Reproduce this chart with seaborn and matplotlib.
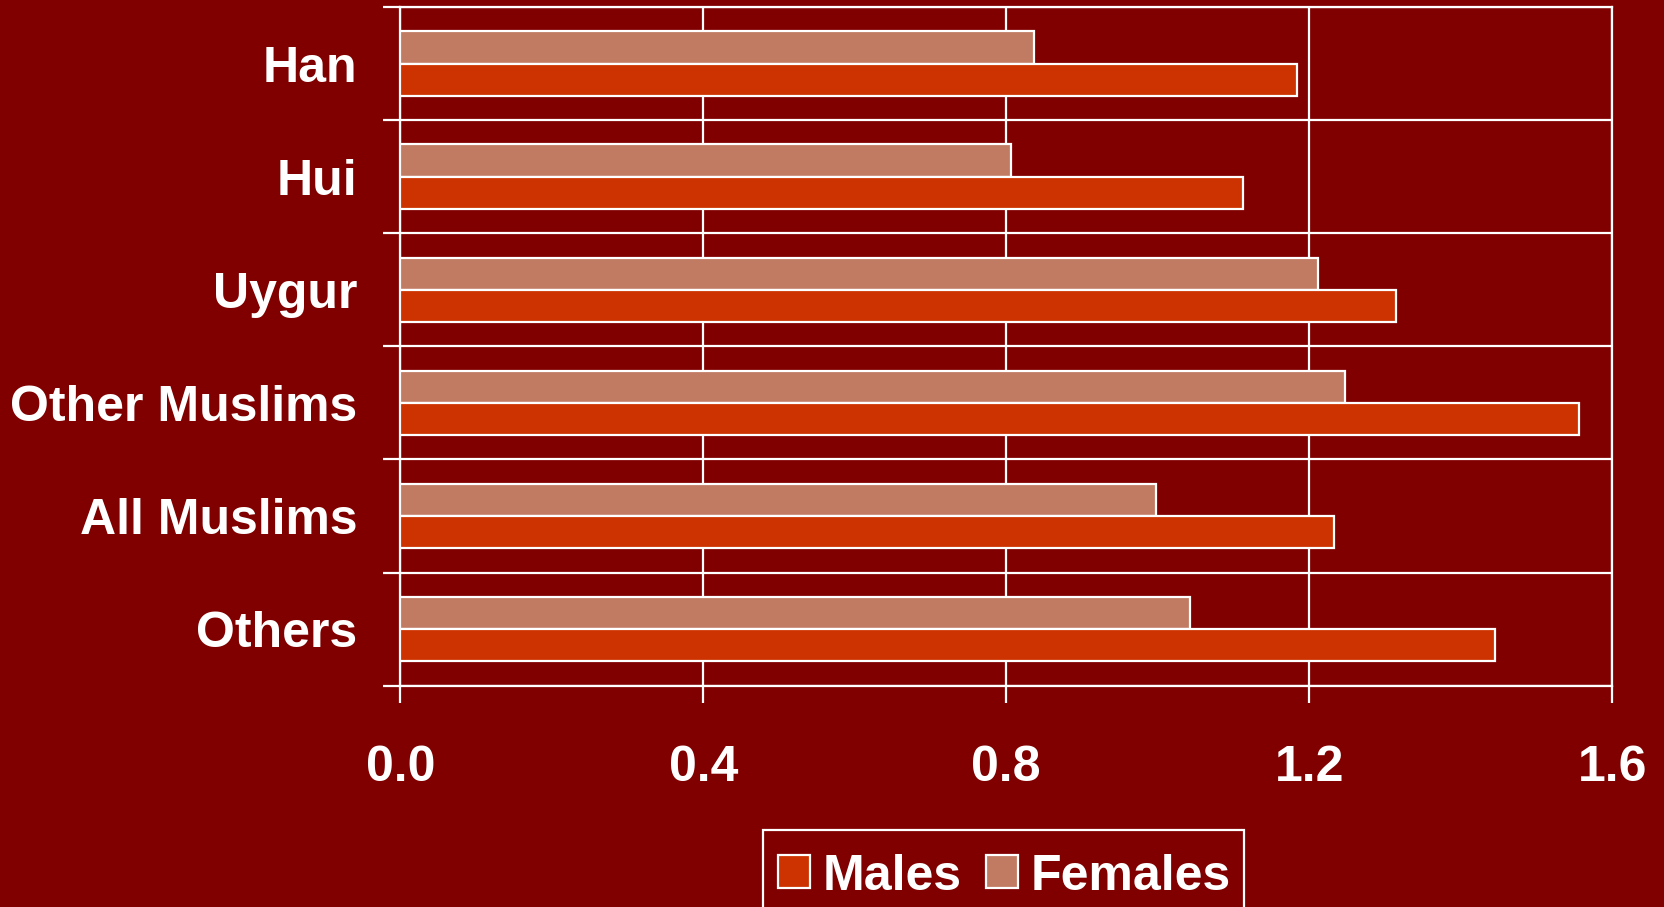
import matplotlib
matplotlib.use("Agg")
import matplotlib.pyplot as plt
from matplotlib.patches import Patch, Rectangle
from matplotlib.ticker import FixedLocator
import numpy as np
import pandas as pd
import seaborn as sns

# Data
groups = ["Han", "Hui", "Uygur", "Other Muslims", "All Muslims", "Others"]
males = [1.184, 1.113, 1.315, 1.556, 1.233, 1.445]
females = [0.836, 0.806, 1.211, 1.247, 0.997, 1.042]
x_ticks = [0.0, 0.4, 0.8, 1.2, 1.6]
x_labels = ["0.0", "0.4", "0.8", "1.2", "1.6"]

BG = "#800000"
MALE_C = "#CC3300"
FEMALE_C = "#C17B63"
FONT = 36
LW = 1.6
TICK_LEN = 12.5
W, H = 1665, 907

df = pd.DataFrame({
    "group": groups * 2,
    "sex": ["Males"] * len(groups) + ["Females"] * len(groups),
    "value": males + females,
})

sns.set_theme(style="white")
plt.rcParams["font.family"] = ["Liberation Sans", "DejaVu Sans"]
plt.rcParams["font.weight"] = "bold"

fig = plt.figure(figsize=(W / 100, H / 100), dpi=100, facecolor=BG)
ax = fig.add_axes([400.3 / W, 1 - 685.7 / H, 1212 / W, 678.7 / H])
ax.set_facecolor(BG)

sns.barplot(
    data=df, y="group", x="value", hue="sex", order=groups,
    hue_order=["Females", "Males"],
    palette={"Males": MALE_C, "Females": FEMALE_C},
    orient="h", width=0.57, dodge=True, legend=False,
    edgecolor="white", linewidth=LW, saturation=1, ax=ax, zorder=3,
)

ax.set_xlim(0, 1.6)
ax.set_ylim(len(groups) - 0.5, -0.5)
ax.set_xticks(x_ticks)
ax.set_xticklabels(x_labels)
ax.set_xlabel("")
ax.set_ylabel("")

# category boundaries as minor ticks with grid lines
ax.yaxis.set_minor_locator(FixedLocator(np.arange(-0.5, len(groups), 1.0)))
ax.tick_params(axis="y", which="major", length=0, pad=31, labelsize=FONT,
               labelcolor="white")
ax.tick_params(axis="y", which="minor", length=TICK_LEN, width=LW,
               color="white", direction="out", left=True)
ax.tick_params(axis="x", which="major", length=TICK_LEN, width=LW,
               color="white", direction="out", bottom=True, pad=30,
               labelsize=FONT, labelcolor="white")
for lab in ax.get_xticklabels() + ax.get_yticklabels():
    lab.set_fontweight("bold")

ax.grid(False)
ax.grid(True, axis="y", which="minor", color="white", linewidth=LW, zorder=1)
ax.grid(True, axis="x", which="major", color="white", linewidth=LW, zorder=1)
ax.set_axisbelow(True)
for s in ax.spines.values():
    s.set_visible(True)
    s.set_color("white")
    s.set_linewidth(LW)

# legend box runs off the bottom edge of the figure
fig.add_artist(Rectangle(
    (762.7 / W, 1 - 930 / H), (1244.3 - 762.7) / W, 100 / H,
    transform=fig.transFigure, facecolor=BG, edgecolor="white",
    linewidth=LW, zorder=1,
))

handles = [
    Patch(facecolor=MALE_C, edgecolor="white", linewidth=LW, label="Males"),
    Patch(facecolor=FEMALE_C, edgecolor="white", linewidth=LW, label="Females"),
]
leg = fig.legend(
    handles=handles, loc="upper left",
    bbox_to_anchor=(762.7 / W, 1 - 838.5 / H),
    ncol=2, frameon=False,
    prop={"size": FONT, "weight": "bold"},
    handlelength=0.64, handleheight=0.64, handletextpad=0.25,
    columnspacing=0.5, borderpad=0.3, borderaxespad=0,
)
leg.set_zorder(2)
for t in leg.get_texts():
    t.set_color("white")

fig.savefig("out.png", dpi=100, facecolor=BG)
